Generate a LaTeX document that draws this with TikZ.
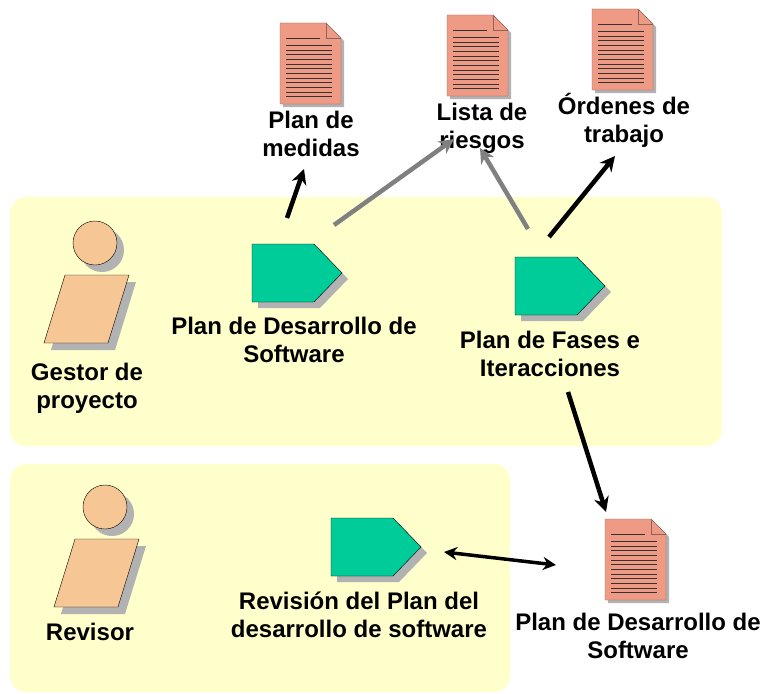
\documentclass[tikz,border=0pt]{standalone}
\usepackage{fontspec}
\setmainfont{Liberation Sans}
\usetikzlibrary{arrows.meta}

\definecolor{zonecolor}{HTML}{FFFFCC}
\definecolor{doccolor}{HTML}{EE9A84}
\definecolor{docedge}{HTML}{8A655A}
\definecolor{taskcolor}{HTML}{00CC99}
\definecolor{actorcolor}{HTML}{F6C794}
\definecolor{shadecolor}{HTML}{B2B2B2}

\tikzset{
    zone/.style={fill=zonecolor,draw=none,rounded corners=16},
    lbl/.style={align=center,inner sep=0,font=\fontsize{24}{28}\selectfont\bfseries},
    link/.style={line width=4.5,-{Stealth[length=15,width=15]}},
    graylink/.style={link,draw=gray},
    bothlink/.style={line width=3.5,{Stealth[length=13,width=13]}-{Stealth[length=13,width=13]}},
    docicon/.pic={
        \fill[shadecolor] (3,3) -- (49,3) -- (64,18) -- (64,84) -- (3,84) -- cycle;
        \draw[docedge,fill=doccolor] (0,0) -- (46,0) -- (61,15) -- (61,81) -- (0,81) -- cycle;
        \draw[docedge] (46,0) -- (46,15) -- (61,15);
        \draw[black!80,line width=.8] (6,15) -- (40,15);
        \foreach \i in {0,...,11}
            \draw[black!80,line width=.8] (6,{22.3+\i*4.67}) -- (52,{22.3+\i*4.67});
    },
    taskicon/.pic={
        \fill[shadecolor] (6,6) -- (68,6) -- (96,35) -- (68,64) -- (6,64) -- cycle;
        \draw[fill=taskcolor] (0,0) -- (62,0) -- (90,29) -- (62,58) -- (0,58) -- cycle;
    },
    actoricon/.pic={
        \fill[shadecolor] (7,7) circle (22);
        \fill[shadecolor] (-23,39) -- (41,39) -- (20,107) -- (-44,107) -- cycle;
        \draw[fill=actorcolor] (0,0) circle (22);
        \draw[fill=actorcolor] (-30,32) -- (34,32) -- (13,100) -- (-51,100) -- cycle;
    }
}

\begin{document}
\begin{tikzpicture}[x=1pt,y=-1pt]
        \useasboundingbox (0,0) rectangle (762,693);

        \path[zone] (10,197) rectangle (722,446);
        \path[zone] (10,464) rectangle (510,692);

        \pic (docmedidas) at (280,23) {docicon};
        \pic (docriesgos) at (447,15) {docicon};
        \pic (docordenes) at (592,9) {docicon};
        \pic (docplan) at (605,519) {docicon};

        \pic (gestor) at (95,243) {actoricon};
        \pic (revisor) at (105,507) {actoricon};

        \pic (taskplan) at (252,244) {taskicon};
        \pic (taskfases) at (515,257) {taskicon};
        \pic (taskrevision) at (331,518) {taskicon};

        \node[lbl] (medidas) at (311,134) {Plan de\\medidas};
        \node[lbl] (riesgos) at (482,128) {Lista de\\riesgos};
        \node[lbl] (ordenes) at (624,120) {Órdenes de\\trabajo};
        \node[lbl] (gestorlbl) at (87,388) {Gestor de\\proyecto};
        \node[lbl] (planlbl) at (294,340) {Plan de Desarrollo de\\Software};
        \node[lbl] (faseslbl) at (550,354) {Plan de Fases e\\Iteracciones};
        \node[lbl] (revisionlbl) at (359,615) {Revisión del Plan del\\desarrollo de software};
        \node[lbl] (revisorlbl) at (90,632) {Revisor};
        \node[lbl] (docplanlbl) at (638,636) {Plan de Desarrollo de\\Software};

        \coordinate (a1) at (287,218);
        \coordinate (a2) at (304,169);
        \coordinate (b1) at (334,225);
        \coordinate (b2) at (454,139);
        \coordinate (c1) at (528,229);
        \coordinate (c2) at (480,148);
        \coordinate (d1) at (549,237);
        \coordinate (d2) at (615,156);
        \coordinate (e1) at (568,392);
        \coordinate (e2) at (606,512);
        \coordinate (f1) at (444,552);
        \coordinate (f2) at (556,565);

        \draw[link] (a1) -- (a2);
        \draw[graylink] (b1) -- (b2);
        \draw[graylink] (c1) -- (c2);
        \draw[link] (d1) -- (d2);
        \draw[link] (e1) -- (e2);
        \draw[bothlink] (f1) -- (f2);
    \end{tikzpicture}
\end{document}
